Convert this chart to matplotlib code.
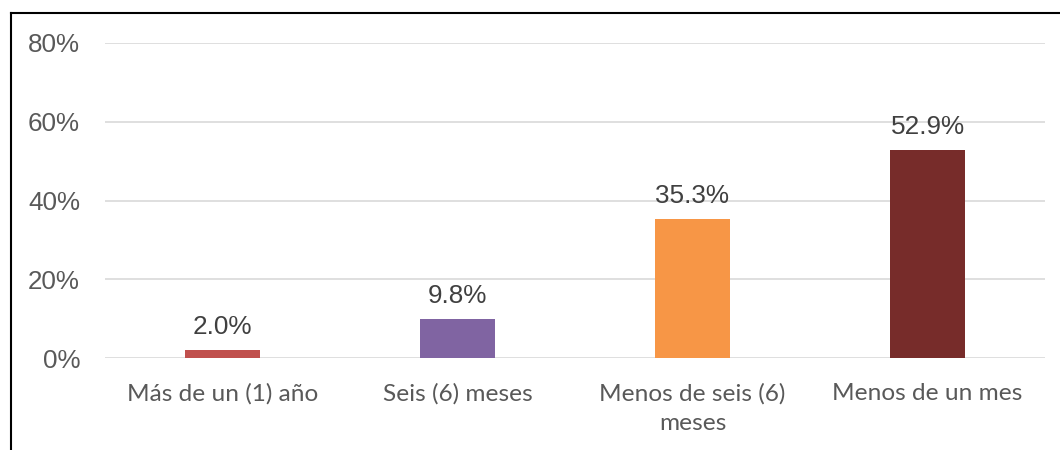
import matplotlib
matplotlib.use("Agg")
import matplotlib.pyplot as plt
from matplotlib.lines import Line2D
import numpy as np

categories = ["Más de un (1) año", "Seis (6) meses", "Menos de seis (6)\nmeses", "Menos de un mes"]
values = [2.0, 9.8, 35.3, 52.9]
colors = ["#C0504D", "#8064A2", "#F79646", "#772C2A"]
yticks = [0, 20, 40, 60, 80]
ytick_labels = ["0%", "20%", "40%", "60%", "80%"]

W, H = 1060, 450
fig = plt.figure(figsize=(W / 100, H / 100), dpi=100)
ax = fig.add_axes([105 / W, (H - 358) / H, (1045 - 105) / W, (358 - 43) / H])

x = np.arange(len(categories))
ax.bar(x, values, width=0.315, color=colors, zorder=3)
ax.set_xlim(-0.5, len(categories) - 0.5)
ax.set_ylim(0, 80)
ax.set_yticks(yticks)
ax.set_yticklabels(ytick_labels, fontfamily="Liberation Sans", fontsize=18.7, color="#595959")
ax.set_xticks(x)
ax.set_xticklabels(categories, fontfamily="Lato", fontsize=17.6, color="#595959", linespacing=1.5)
ax.tick_params(axis="both", length=0)
ax.tick_params(axis="y", pad=18)
ax.tick_params(axis="x", pad=18)
ax.grid(axis="y", color="#D9D9D9", linewidth=1.2, zorder=0)
for s in ax.spines.values():
    s.set_visible(False)

for xi, v in zip(x, values):
    ax.annotate(f"{v:.1f}%", (xi, v), xytext=(0, 8), textcoords="offset points",
                ha="center", va="bottom", fontfamily="Liberation Sans", fontsize=18.8, color="#404040")

fig.add_artist(Line2D([11 / W, 11 / W], [0, (H - 13) / H], color="black", linewidth=1.5, transform=fig.transFigure))
fig.add_artist(Line2D([11 / W, 1], [(H - 13) / H, (H - 13) / H], color="black", linewidth=1.5, transform=fig.transFigure))

fig.savefig("out.png", dpi=100)
